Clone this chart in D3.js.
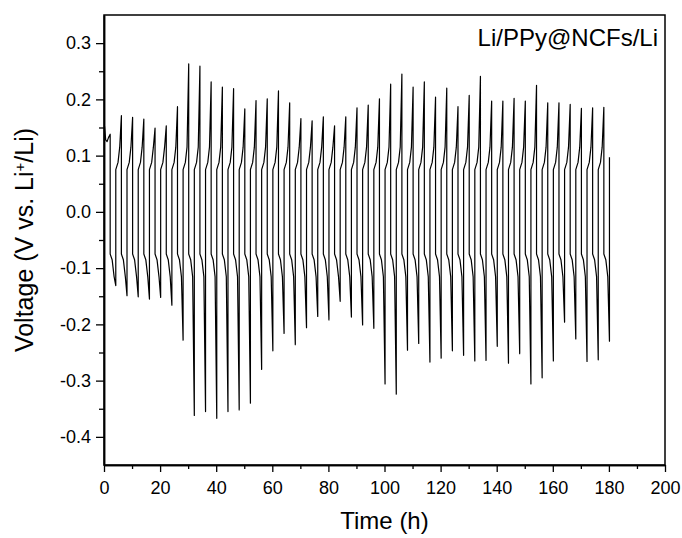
<!DOCTYPE html>
<html>
<head>
<meta charset="utf-8">
<script src="https://cdn.jsdelivr.net/npm/d3@7"></script>
<style>
  body { margin: 0; background: #fff; }
  text { font-family: "Liberation Sans", Arial, sans-serif; fill: #000; }
</style>
</head>
<body>
<svg width="682" height="538"></svg>
<script>
// peaks of each stripping/plating half cycle (V)
var posPeak = [0.171, 0.168, 0.165, 0.149, 0.153, 0.187, 0.263, 0.259, 0.231, 0.222,
               0.219, 0.183, 0.198, 0.201, 0.215, 0.194, 0.166, 0.162, 0.169, 0.153,
               0.169, 0.185, 0.190, 0.201, 0.227, 0.245, 0.222, 0.231, 0.204, 0.220,
               0.187, 0.207, 0.241, 0.197, 0.197, 0.202, 0.197, 0.225, 0.194, 0.194,
               0.191, 0.184, 0.185, 0.186];
var negPeak = [-0.131, -0.149, -0.151, -0.155, -0.152, -0.166, -0.228, -0.362, -0.355, -0.367,
               -0.355, -0.352, -0.340, -0.280, -0.247, -0.216, -0.236, -0.206, -0.186, -0.192,
               -0.159, -0.187, -0.201, -0.207, -0.306, -0.324, -0.246, -0.234, -0.267, -0.260,
               -0.247, -0.255, -0.265, -0.264, -0.239, -0.269, -0.252, -0.306, -0.295, -0.265,
               -0.196, -0.226, -0.266, -0.263, -0.230];

// rest period at the start (h, V)
var initT = [0.2, 0.6, 1.1, 1.6, 2.2];
var initV = [0.152, 0.128, 0.125, 0.132, 0.138];

// shape of one half cycle: fraction of the half, voltage before the tip
var posShapeF = [0, 0.4, 0.7, 1];
var posShapeV = [0.075, 0.088, 0.115];
var negShapeF = [0, 0.35, 0.7, 1];
var negShapeV = [-0.075, -0.085, -0.115];

var firstDrop = 2.2, halfCycle = 2;
var finalV = 0.097;

var xTicks = [0, 20, 40, 60, 80, 100, 120, 140, 160, 180, 200],
    xMinor = [10, 30, 50, 70, 90, 110, 130, 150, 170, 190],
    yTicks = [-0.4, -0.3, -0.2, -0.1, 0.0, 0.1, 0.2, 0.3],
    yMinor = [-0.35, -0.25, -0.15, -0.05, 0.05, 0.15, 0.25];

var svg = d3.select("svg"),
    margin = {top: 15, right: 17, bottom: 73, left: 104},
    width = svg.attr("width") - margin.left - margin.right,
    height = svg.attr("height") - margin.top - margin.bottom,
    g = svg.append("g").attr("transform", "translate(" + margin.left + "," + margin.top + ")");

var x = d3.scaleLinear().domain([0, 200]).range([0, width]),
    y = d3.scaleLinear().domain([-0.45, 0.35]).range([height, 0]);

var pts = initT.map(function(t, i) { return [t, initV[i]]; });
negPeak.forEach(function(np, k) {
  var t0 = firstDrop + k * 2 * halfCycle;
  negShapeF.forEach(function(f, j) {
    pts.push([t0 + f * halfCycle, j < negShapeV.length ? negShapeV[j] : np]);
  });
  var t1 = t0 + halfCycle;
  if (k < posPeak.length) {
    posShapeF.forEach(function(f, j) {
      pts.push([t1 + f * halfCycle, j < posShapeV.length ? posShapeV[j] : posPeak[k]]);
    });
  } else {
    pts.push([t1, finalV]);
  }
});

var line = d3.line()
    .x(function(d) { return x(d[0]); })
    .y(function(d) { return y(d[1]); });

g.append("path")
    .datum(pts)
    .attr("d", line)
    .style("fill", "none")
    .style("stroke", "#000")
    .style("stroke-width", 1.2)
    .style("stroke-linejoin", "round");

// frame
g.append("rect")
    .attr("width", width)
    .attr("height", height)
    .style("fill", "none")
    .style("stroke", "#000")
    .style("stroke-width", 1.5);

g.append("g")
    .attr("transform", "translate(0," + height + ")")
    .call(d3.axisBottom(x).tickValues(xTicks).tickSize(7).tickSizeOuter(0).tickPadding(9));
g.append("g")
    .attr("transform", "translate(0," + height + ")")
    .call(d3.axisBottom(x).tickValues(xMinor).tickSize(4).tickSizeOuter(0).tickFormat(""));

g.append("g")
    .call(d3.axisLeft(y).tickValues(yTicks).tickSize(8).tickSizeOuter(0).tickPadding(5)
      .tickFormat(function(d) { return d.toFixed(1); }));
g.append("g")
    .call(d3.axisLeft(y).tickValues(yMinor).tickSize(5).tickSizeOuter(0).tickFormat(""));

g.selectAll(".domain").style("stroke-width", 1.5);
g.selectAll(".tick line").style("stroke-width", 1.3);
g.selectAll(".tick text")
    .style("font-family", "'Liberation Sans', Arial, sans-serif")
    .style("font-size", "18px");

svg.append("text")
    .attr("x", margin.left + width / 2)
    .attr("y", 529)
    .attr("text-anchor", "middle")
    .style("font-size", "24px")
    .text("Time (h)");

var yt = svg.append("text")
    .attr("transform", "translate(33," + (margin.top + height / 2) + ") rotate(-90)")
    .attr("text-anchor", "middle")
    .style("font-size", "25px");
yt.append("tspan").text("Voltage (V vs. Li");
yt.append("tspan").attr("baseline-shift", "super").style("font-size", "15px").text("+");
yt.append("tspan").text("/Li)");

svg.append("text")
    .attr("x", 658)
    .attr("y", 46)
    .attr("text-anchor", "end")
    .style("font-size", "24px")
    .text("Li/PPy@NCFs/Li");
</script>
</body>
</html>
